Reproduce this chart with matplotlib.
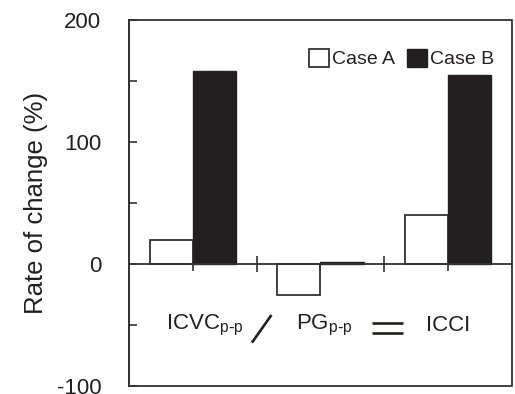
import matplotlib
matplotlib.use('Agg')
import matplotlib.pyplot as plt
import numpy as np
from matplotlib.patches import Rectangle

# data
groups = ['ICVC', 'PG', 'ICCI']
case_a = [20, -25, 40]
case_b = [158, 2, 155]
series = ['Case A', 'Case B']

plt.rcParams['font.family'] = ['Liberation Sans', 'DejaVu Sans']
INK = '#231f20'

fig = plt.figure(figsize=(5.15, 3.94), dpi=100)
ax = fig.add_axes([0.2505, 0.02, 0.7435, 0.929])

x = np.arange(len(groups))
w = 0.338
ax.bar(x - w/2, case_a, w, color='white', edgecolor='#333333', linewidth=1.3, label=series[0])
ax.bar(x + w/2, case_b, w, color=INK, edgecolor=INK, linewidth=1.0, label=series[1])

ax.set_xlim(-0.5, 2.5)
ax.set_ylim(-100, 200)
ax.set_yticks([-100, -50, 0, 50, 100, 150, 200])
ax.set_yticklabels(['-100', '', '0', '', '100', '', '200'])
ax.tick_params(axis='y', direction='in', length=6, width=1.2, pad=20,
               labelsize=16, colors='#333333', labelcolor=INK)

# x axis on the zero line, box drawn separately
ax.spines['bottom'].set_position(('data', 0))
ax.spines['top'].set_visible(False)
ax.spines['right'].set_visible(False)
for s in ('bottom', 'left'):
    ax.spines[s].set_linewidth(1.3)
    ax.spines[s].set_color('#333333')
ax.add_patch(Rectangle((0, 0), 1, 1, transform=ax.transAxes, fill=False,
                       edgecolor='#333333', linewidth=1.3, clip_on=False, zorder=5))
ax.set_xticks([0.5, 1.5])
ax.set_xticks(x, minor=True)
ax.set_xticklabels([])
ax.tick_params(axis='x', which='major', direction='inout', length=11, width=1.2, colors='#333333')
ax.tick_params(axis='x', which='minor', direction='out', length=5, width=1.2, colors='#333333')

ax.set_ylabel('Rate of change (%)', fontsize=18.5, color=INK, labelpad=6)

# equation under the bars: ICVC / PG = ICCI
ax.text(0.09, -50, r'ICVC$_{\mathregular{p\text{-}p}}$', fontsize=16, ha='center', va='center', color=INK)
ax.text(1.03, -50, r'PG$_{\mathregular{p\text{-}p}}$', fontsize=16, ha='center', va='center', color=INK)
ax.text(2.0, -50, 'ICCI', fontsize=16, ha='center', va='center', color=INK)
# slash and equals sign drawn as strokes, like the original
ax.plot([0.463, 0.616], [-64.4, -41.7], color=INK, lw=1.9, solid_capstyle='butt')
ax.plot([1.402, 1.644], [-48.3, -48.3], color=INK, lw=1.9, solid_capstyle='butt')
ax.plot([1.402, 1.644], [-56.5, -56.5], color=INK, lw=1.9, solid_capstyle='butt')

ax.legend(loc='upper right', bbox_to_anchor=(1.0, 0.97), ncol=2, frameon=False,
          fontsize=14, handlelength=1.05, handleheight=1.05, handletextpad=0.15,
          columnspacing=0.6, labelcolor=INK)

fig.savefig('out.png', dpi=100)
